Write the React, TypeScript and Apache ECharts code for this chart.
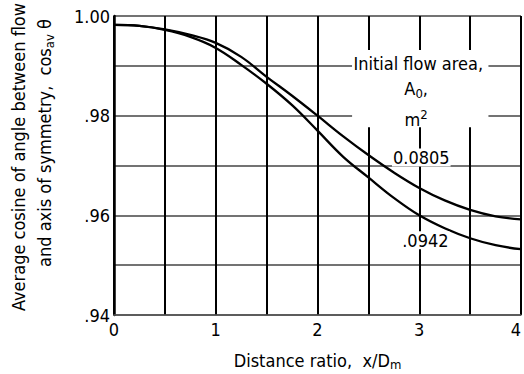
import React, { useEffect, useRef } from 'react';
import * as echarts from 'echarts';

// Data
const xValues = [0, 0.25, 0.5, 0.75, 1, 1.25, 1.5, 1.75, 2, 2.25, 2.5, 2.75, 3, 3.25, 3.5, 3.75, 4];
const area0805 = [0.9982, 0.998, 0.9973, 0.9962, 0.9946, 0.9918, 0.9878, 0.984, 0.98, 0.9759, 0.9721, 0.9686, 0.9655, 0.963, 0.9611, 0.9598, 0.9592];
const area0942 = [0.9982, 0.998, 0.9972, 0.9958, 0.9936, 0.9902, 0.9864, 0.9821, 0.977, 0.9718, 0.9676, 0.9635, 0.96, 0.9574, 0.9554, 0.954, 0.9532];
const xTickLabels = ['0', '1', '2', '3', '4'];
const yTickLabels = ['.94', '.96', '.98', '1.00'];
const seriesNames = ['0.0805', '.0942'];

const FONT = '"Liberation Sans Narrow", "DejaVu Sans Condensed", "Liberation Sans", sans-serif';

export default function App() {
  const ref = useRef<HTMLDivElement>(null);
  useEffect(() => {
    if (!ref.current) return;
    const chart = echarts.init(ref.current, undefined, { renderer: 'svg' });
    const txt = { fontFamily: FONT, fontSize: 18, color: '#000' };
    chart.setOption({
      animation: false,
      backgroundColor: '#fff',
      grid: { left: 114, right: 3, top: 16, bottom: 59, containLabel: false, outerBoundsMode: 'none' },
      xAxis: {
        type: 'value', min: 0, max: 4, interval: 0.5,
        axisLine: { lineStyle: { color: '#555', width: 1.5 } },
        axisTick: { show: false },
        splitLine: { show: true, lineStyle: { color: '#000', width: 2 } },
        axisLabel: {
          ...txt, margin: 5, alignMaxLabel: 'right',
          formatter: (v: number) => {
            const i = Math.round(v);
            return Math.abs(v - i) < 1e-6 ? xTickLabels[i] : '';
          },
        },
        name: '{n|Distance ratio,  x/D}{s|m}',
        nameLocation: 'middle', nameGap: 35,
        nameTextStyle: {
          ...txt,
          rich: {
            n: { fontFamily: FONT, fontSize: 18, color: '#000', lineHeight: 21, verticalAlign: 'middle' },
            s: { fontFamily: FONT, fontSize: 13, color: '#000', lineHeight: 21, verticalAlign: 'bottom' },
          },
        },
      },
      yAxis: {
        type: 'value', min: 0.94, max: 1.0, interval: 0.01,
        axisLine: { show: true, lineStyle: { color: '#000', width: 2.5 } },
        axisTick: { show: false },
        splitLine: { show: true, lineStyle: { color: '#444', width: 1.5 } },
        axisLabel: {
          ...txt, margin: 4,
          formatter: (v: number) => {
            const k = (v - 0.94) / 0.02;
            const i = Math.round(k);
            return Math.abs(k - i) < 1e-6 ? yTickLabels[i] : '';
          },
        },
      },
      series: [
        {
          name: seriesNames[0], type: 'line', smooth: 0.4, symbol: 'none',
          data: xValues.map((x, i) => [x, area0805[i]]),
          lineStyle: { color: '#000', width: 2.3 }, z: 3,
        },
        {
          name: seriesNames[1], type: 'line', smooth: 0.4, symbol: 'none',
          data: xValues.map((x, i) => [x, area0942[i]]),
          lineStyle: { color: '#000', width: 2.3 }, z: 3,
        },
      ],
    });

    const px = (x: number, y: number) => chart.convertToPixel({ gridIndex: 0 }, [x, y]) as number[];
    const p1 = px(2.34, 0.9932);
    const p2 = px(3.68, 0.9777);
    const tStyle = (text: string, rich?: any) => ({
      text, fontFamily: FONT, fontSize: 18, fill: '#000', align: 'center', verticalAlign: 'middle',
      backgroundColor: '#fff', padding: [0, 1], rich,
    });
    const aInitial = px(2.99, 0.9904);
    const aA0 = px(2.97, 0.9855);
    const aM2 = px(2.97, 0.9795);
    const a1 = px(3.02, 0.9716);
    const a2 = px(3.06, 0.955);
    const r = (fs: number, va: string, lh: number) => ({ fontFamily: FONT, fontSize: fs, fill: '#000', verticalAlign: va, lineHeight: lh });

    chart.setOption({
      graphic: [
        { type: 'rect', z: 10, shape: { x: p1[0], y: p1[1], width: p2[0] - p1[0], height: p2[1] - p1[1] }, style: { fill: '#fff' } },
        { type: 'text', z: 11, x: aInitial[0], y: aInitial[1], style: tStyle('Initial flow area,') },
        { type: 'text', z: 11, x: aA0[0], y: aA0[1], style: { ...tStyle('{n|A}{s|0}{n|,}', { n: r(18, 'middle', 24), s: r(13, 'bottom', 24) }), backgroundColor: undefined } },
        { type: 'text', z: 11, x: aM2[0], y: aM2[1], style: { ...tStyle('{n|m}{s|2}', { n: r(18, 'bottom', 20), s: r(13, 'top', 20) }), backgroundColor: undefined } },
        { type: 'text', z: 11, x: a1[0], y: a1[1], style: tStyle('0.0805') },
        { type: 'text', z: 11, x: a2[0], y: a2[1], style: tStyle('.0942') },
        {
          type: 'text', z: 11, x: 18, y: 157, rotation: Math.PI / 2,
          style: { text: 'Average cosine of angle between flow', fontFamily: FONT, fontSize: 18, fill: '#000', align: 'center', verticalAlign: 'middle' },
        },
        {
          type: 'text', z: 11, x: 44, y: 143, rotation: Math.PI / 2,
          style: {
            text: '{n|and axis of symmetry,  cos}{s|av}{n| θ}', fontFamily: FONT, fontSize: 18, fill: '#000', align: 'center', verticalAlign: 'middle',
            rich: { n: r(18, 'middle', 24), s: r(13, 'bottom', 24) },
          },
        },
      ],
    });
    return () => chart.dispose();
  }, []);
  return <div ref={ref} style={{ position: 'absolute', left: 0, top: 0, width: 524, height: 374 }} />;
}
